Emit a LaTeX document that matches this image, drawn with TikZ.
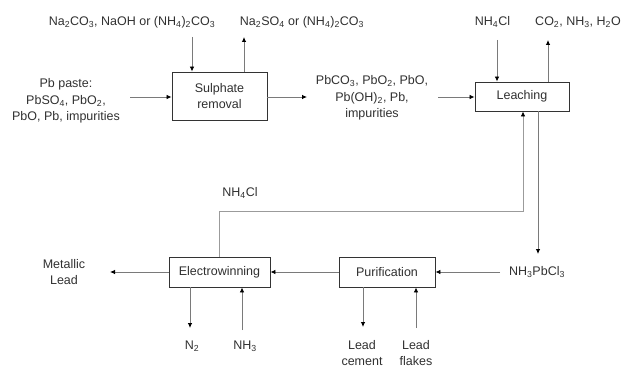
\documentclass[tikz,border=0pt]{standalone}
\usepackage{fontspec}
\setmainfont{Liberation Sans}
\usetikzlibrary{arrows.meta}
\definecolor{txt}{HTML}{303030}
\definecolor{ln}{HTML}{7A7A7A}
\definecolor{bx}{HTML}{333333}
\newcommand{\sbs}[1]{\textsubscript{#1}}
\begin{document}
\begin{tikzpicture}[x=1pt,y=-1pt,
  every node/.style={text=txt,font=\fontsize{12.5}{16.5}\selectfont,inner sep=0pt},
  procbox/.style={draw=bx,line width=0.9pt,fill=white},
  lbl/.style={align=center},
  arr/.style={draw=ln,line width=0.8pt,-{Latex[length=5pt,width=4.5pt,color=black]}}]
\useasboundingbox (0,0) rectangle (622,369);
% process boxes
\node[procbox,minimum width=95pt,minimum height=48pt,align=center] (sr) at (219.5,96) {Sulphate\\removal};
\node[procbox,minimum width=94pt,minimum height=29pt] (le) at (522,96.5) {Leaching};
\node[procbox,minimum width=101pt,minimum height=30pt] (ew) at (219.5,272) {Electrowinning};
\node[procbox,minimum width=96pt,minimum height=30pt] (pu) at (387,272) {Purification};
% labels
\node[lbl] (feed) at (132,22) {Na\sbs{2}CO\sbs{3}, NaOH or (NH\sbs{4})\sbs{2}CO\sbs{3}};
\node[lbl] (sout) at (302,22) {Na\sbs{2}SO\sbs{4} or (NH\sbs{4})\sbs{2}CO\sbs{3}};
\node[lbl] (paste) at (66,101) {Pb paste:\\PbSO\sbs{4}, PbO\sbs{2},\\PbO, Pb, impurities};
\node[lbl] (inter) at (372,98) {PbCO\sbs{3}, PbO\sbs{2}, PbO,\\Pb(OH)\sbs{2}, Pb,\\impurities};
\node[lbl] (nhin) at (492.5,22) {NH\sbs{4}Cl};
\node[lbl] (gas) at (578,22) {CO\sbs{2}, NH\sbs{3}, H\sbs{2}O};
\node[lbl] (nhloop) at (240,193) {NH\sbs{4}Cl};
\node[lbl] (npc) at (537,272) {NH\sbs{3}PbCl\sbs{3}};
\node[lbl] (ml) at (64,272) {Metallic\\Lead};
\node[lbl] (n2) at (192,346) {N\sbs{2}};
\node[lbl] (nh3) at (245,346) {NH\sbs{3}};
\node[lbl] (lc) at (362,353) {Lead\\cement};
\node[lbl] (lf) at (416,353) {Lead\\flakes};
% free ends
\coordinate (a1) at (192,37);
\coordinate (a2) at (244,37);
\coordinate (a3) at (130,97);
\coordinate (a4) at (307,97);
\coordinate (a5) at (438,97);
\coordinate (a6) at (497,40);
\coordinate (a7) at (548,40);
\coordinate (a8) at (538,254);
\coordinate (a9) at (500,272);
\coordinate (a10) at (110,272);
\coordinate (a11) at (190,328);
\coordinate (a12) at (242,330);
\coordinate (a13) at (363,327);
\coordinate (a14) at (416,328);
\coordinate (lp1) at (523,211);
\coordinate (lp2) at (219,211);
% connectors
\draw[arr] (a1) -- (a1 |- sr.north);
\draw[arr] (a2 |- sr.north) -- (a2);
\draw[arr] (a3) -- (a3 -| sr.west);
\draw[arr] (a4 -| sr.east) -- (a4);
\draw[arr] (a5) -- (a5 -| le.west);
\draw[arr] (a6) -- (a6 |- le.north);
\draw[arr] (a7 |- le.north) -- (a7);
\draw[arr] (a8 |- le.south) -- (a8);
\draw[arr] (a9) -- (a9 -| pu.east);
\draw[arr] (pu.west) -- (ew.east);
\draw[arr] (ew.west) -- (a10);
\draw[arr] (a11 |- ew.south) -- (a11);
\draw[arr] (a12) -- (a12 |- ew.south);
\draw[arr] (a13 |- pu.south) -- (a13);
\draw[arr] (a14) -- (a14 |- pu.south);
\draw[arr,draw=ln!75] (lp2 |- ew.north) -- (lp2) -- (lp1) -- (lp1 |- le.south);
\end{tikzpicture}
\end{document}
